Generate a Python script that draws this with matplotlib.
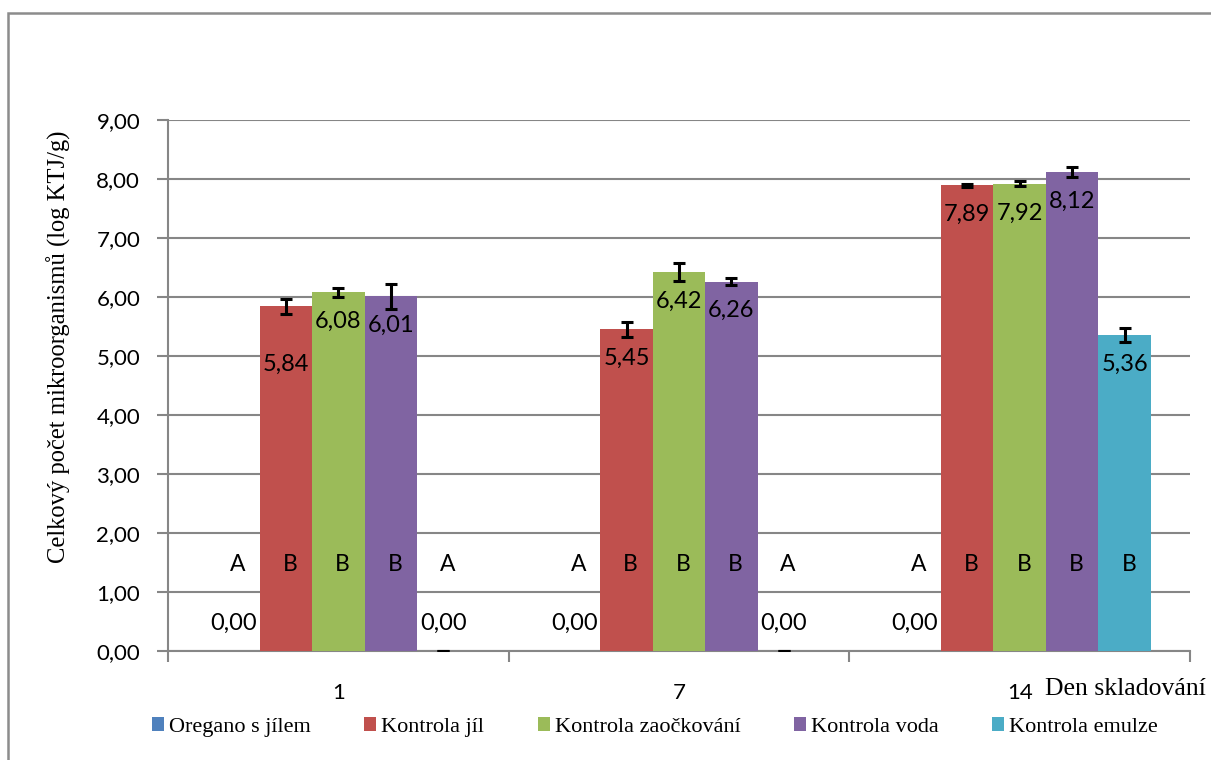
import numpy as np
import matplotlib.pyplot as plt
from matplotlib.patches import Rectangle

# Celkový počet mikroorganismů podle dne skladování
days = ['1', '7', '14']
series = ['Oregano s jílem', 'Kontrola jíl', 'Kontrola zaočkování',
          'Kontrola voda', 'Kontrola emulze']
colors = ['#4F81BD', '#C0504D', '#9BBB59', '#8064A2', '#4BACC6']

values = [
    [0.00, 0.00, 0.00],   # Oregano s jílem
    [5.84, 5.45, 7.89],   # Kontrola jíl
    [6.08, 6.42, 7.92],   # Kontrola zaočkování
    [6.01, 6.26, 8.12],   # Kontrola voda
    [0.00, 0.00, 5.36],   # Kontrola emulze
]
errors = [
    [None, None, None],
    [0.13, 0.13, 0.02],
    [0.08, 0.15, 0.04],
    [0.21, 0.06, 0.08],
    [0.00, 0.00, 0.12],
]
letters = [
    ['A', 'A', 'A'],
    ['B', 'B', 'B'],
    ['B', 'B', 'B'],
    ['B', 'B', 'B'],
    ['A', 'A', 'B'],
]

sans = ['Lato', 'DejaVu Sans']
serif = ['Liberation Serif', 'DejaVu Serif']
grid_c = '#868686'

fig = plt.figure(figsize=(12.11, 7.6), dpi=100)
ax = fig.add_axes([168/1211, 1 - 651/760, 1022/1211, 531/760])

# rámeček grafu (horní a levá hrana)
fig.patches.append(Rectangle((8/1211, -0.1), 1.2, 1 - 13/760 + 0.1,
                             transform=fig.transFigure, fill=False,
                             edgecolor='#8c8c8c', linewidth=1.8))

x = np.arange(len(days))
w = 0.154
for i, name in enumerate(series):
    xs = x + (i - 2) * w
    ax.bar(xs, values[i], width=w, color=colors[i], label=name, zorder=3)
    for j in range(len(days)):
        v = values[i][j]
        e = errors[i][j]
        if e is not None:
            ax.errorbar(xs[j], v, yerr=e, fmt='none', ecolor='black',
                        elinewidth=2.2, capsize=4.5, capthick=2.2, zorder=4)
        txt = f'{v:.2f}'.replace('.', ',')
        if v == 0:
            dy = 20
        elif (i, j) == (1, 0):
            dy = -42
        else:
            dy = -21
        ax.annotate(txt, (xs[j], v), xytext=(0, dy), textcoords='offset points',
                    ha='center', va='center', fontsize=17, family=sans, zorder=5)
        ax.annotate(letters[i][j], (xs[j], 1.47), xytext=(3, 0),
                    textcoords='offset points', ha='center', va='center',
                    fontsize=16.5, family=sans, zorder=5)

ax.set_xlim(-0.5, 2.5)
ax.set_ylim(0, 9)
ax.set_yticks(np.arange(0, 10, 1))
ax.set_yticklabels([f'{t:.2f}'.replace('.', ',') for t in range(10)],
                   fontsize=16, family=sans)
ax.set_xticks(x)
ax.set_xticklabels(days, fontsize=16, family=sans)
ax.set_xticks([-0.5, 0.5, 1.5, 2.5], minor=True)
ax.tick_params(axis='x', which='major', length=0, pad=23)
ax.tick_params(axis='x', which='minor', length=8, width=1.5, color=grid_c)
ax.tick_params(axis='y', length=8, width=1.5, color=grid_c, pad=12)

ax.grid(axis='y', color=grid_c, linewidth=1.5, zorder=0)
ax.set_axisbelow(True)
for s in ['top', 'right']:
    ax.spines[s].set_visible(False)
for s in ['left', 'bottom']:
    ax.spines[s].set_color(grid_c)
    ax.spines[s].set_linewidth(1.5)

fig.text(59/1211, 1 - 347/760, 'Celkový počet mikroorganismů (log KTJ/g)',
         rotation=90, ha='center', va='center', fontsize=17.7, family=serif)
fig.text(1206/1211, 1 - 689/760, 'Den skladování', ha='right', va='center',
         fontsize=18.5, family=serif)

fig.legend(loc='center', bbox_to_anchor=(655/1211, 1 - 727/760), ncol=5,
           frameon=False, prop={'family': serif, 'size': 16},
           handlelength=0.55, handleheight=0.55, handletextpad=0.22,
           columnspacing=2.4)

fig.savefig('out.png', dpi=100)
